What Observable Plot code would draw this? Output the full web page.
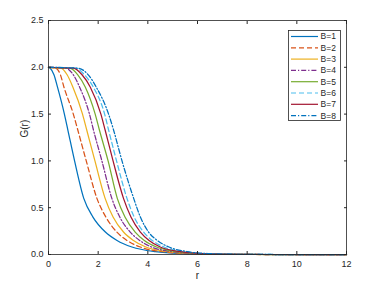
<!DOCTYPE html>
<html><head><meta charset="utf-8">
<script src="https://cdn.jsdelivr.net/npm/d3@7"></script>
<script src="https://cdn.jsdelivr.net/npm/@observablehq/plot@0.6"></script>
<style>
body{margin:0;background:#fff;font-family:"Liberation Sans",Arial,sans-serif;}
#wrap{position:relative;width:382px;height:286px;overflow:hidden;}
#legend{position:absolute;left:288px;top:30px;}
</style>
</head><body>
<div id="wrap"></div>
<script>
// Series labels
const seriesNames = ["B=1","B=2","B=3","B=4","B=5","B=6","B=7","B=8"];
const seriesColors = ["#0072BD","#D95319","#EDB120","#7E2F8E","#77AC30","#4DBEEE","#A2142F","#0072BD"];
const seriesDash = [null,"5,3",null,"5,2,1.2,2",null,"5,3",null,"5,2,1.2,2"];
// G values read at common levels (last two: baseline out to r=12)
const G_levels = [2, 1.99, 1.92, 1.79, 1.5, 1.33, 1.0, 0.6, 0.4, 0.24, 0.15, 0.08, 0.03, 0.01, 0.002, 0, 0];
// r positions where each curve reaches those levels
const r_B1 = [0, 0.07, 0.22, 0.36, 0.64, 0.78, 1.05, 1.42, 1.79, 2.29, 2.76, 3.36, 4.3, 5.4, 7.0, 8.5, 12];
const r_B2 = [0, 0.30, 0.48, 0.62, 1.00, 1.18, 1.52, 1.95, 2.31, 2.75, 3.16, 3.70, 4.6, 5.6, 7.1, 8.5, 12];
const r_B3 = [0, 0.50, 0.75, 0.98, 1.37, 1.54, 1.87, 2.28, 2.60, 3.02, 3.42, 3.92, 4.8, 5.8, 7.2, 8.6, 12];
const r_B4 = [0, 0.70, 1.00, 1.25, 1.65, 1.81, 2.15, 2.55, 2.87, 3.29, 3.67, 4.15, 5.0, 5.95, 7.3, 8.7, 12];
const r_B5 = [0, 0.85, 1.18, 1.48, 1.88, 2.05, 2.40, 2.77, 3.08, 3.49, 3.86, 4.35, 5.15, 6.1, 7.4, 8.8, 12];
const r_B6 = [0, 1.10, 1.45, 1.80, 2.26, 2.42, 2.74, 3.16, 3.45, 3.83, 4.18, 4.65, 5.4, 6.3, 7.6, 9.0, 12];
const r_B7 = [0, 1.00, 1.35, 1.68, 2.11, 2.28, 2.60, 3.02, 3.32, 3.70, 4.05, 4.50, 5.3, 6.2, 7.5, 8.9, 12];
const r_B8 = [0, 1.20, 1.60, 1.92, 2.42, 2.62, 2.96, 3.43, 3.70, 4.03, 4.38, 4.85, 5.6, 6.45, 7.7, 9.1, 12];
const xTicks = [0, 2, 4, 6, 8, 10, 12];
const yTicks = [0, 0.5, 1, 1.5, 2, 2.5];

const rArrays = [r_B1, r_B2, r_B3, r_B4, r_B5, r_B6, r_B7, r_B8];
const axisColor = "#262626";
const textColor = "#262626";

const lineMarks = rArrays.map((rs, i) => Plot.line(
  rs.map((r, j) => ({r, G: G_levels[j]})),
  {x: "r", y: "G", stroke: seriesColors[i], strokeWidth: 1.25, strokeDasharray: seriesDash[i], curve: "monotone-x"}
));

const chart = Plot.plot({
  width: 382, height: 286,
  marginLeft: 48, marginRight: 36, marginTop: 20, marginBottom: 32,
  style: {fontFamily: "'Liberation Sans', Arial, sans-serif", fontSize: "9px", color: textColor, background: "#fff"},
  x: {domain: [0, 12]},
  y: {domain: [0, 2.5]},
  marks: [
    ...lineMarks,
    Plot.frame({stroke: axisColor, strokeWidth: 0.8}),
    Plot.axisX(xTicks, {anchor: "bottom", tickSize: 3, dy: -3, tickFormat: () => "", label: null, stroke: axisColor}),
    Plot.axisX(xTicks, {anchor: "top", tickSize: 3, dy: 3, tickFormat: () => "", label: null, stroke: axisColor}),
    Plot.axisY(yTicks, {anchor: "left", tickSize: 3, dx: 3, tickFormat: () => "", label: null, stroke: axisColor}),
    Plot.axisY(yTicks, {anchor: "right", tickSize: 3, dx: -3, tickFormat: () => "", label: null, stroke: axisColor}),
    Plot.axisX(xTicks, {anchor: "bottom", tickSize: 0, tickPadding: 6, label: null}),
    Plot.axisY(yTicks, {anchor: "left", tickSize: 0, tickPadding: 5, label: null}),
    Plot.text(["G(r)"], {frameAnchor: "left", dx: -24, rotate: -90, fontSize: 10, fill: textColor}),
    Plot.text(["r"], {frameAnchor: "bottom", dy: 24, fontSize: 10, fill: textColor})
  ]
});
document.getElementById("wrap").appendChild(chart);

// Legend
const lg = d3.select("#wrap").append("svg").attr("id", "legend")
  .attr("width", 53).attr("height", 91);
lg.append("rect").attr("x", 0.5).attr("y", 0.5).attr("width", 52).attr("height", 90)
  .attr("fill", "#fff").attr("stroke", axisColor).attr("stroke-width", 0.8);
seriesNames.forEach((name, i) => {
  const y = 6.5 + i * 11.3;
  lg.append("line").attr("x1", 3).attr("x2", 30).attr("y1", y).attr("y2", y)
    .attr("stroke", seriesColors[i]).attr("stroke-width", 1.2)
    .attr("stroke-dasharray", seriesDash[i]);
  lg.append("text").attr("x", 32.5).attr("y", y).attr("dy", "0.35em")
    .attr("font-size", 8.5).attr("fill", textColor)
    .attr("font-family", "'Liberation Sans', Arial, sans-serif").text(name);
});
</script>
</body></html>
